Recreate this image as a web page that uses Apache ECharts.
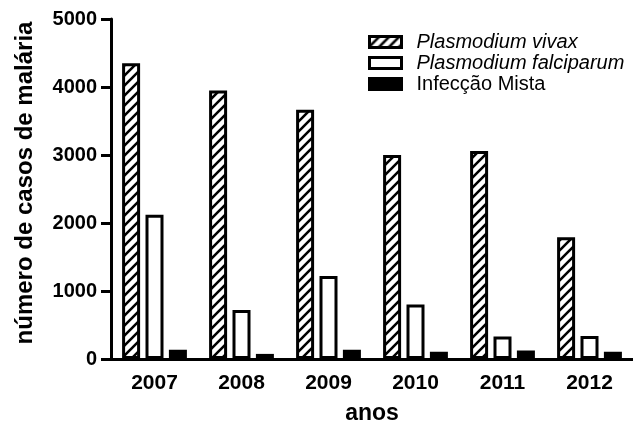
<!DOCTYPE html>
<html>
<head>
<meta charset="utf-8">
<script src="https://cdn.jsdelivr.net/npm/echarts@6/dist/echarts.min.js"></script>
<style>
  html, body { margin: 0; padding: 0; background: #fff; }
  #chart { width: 633px; height: 424px; }
</style>
</head>
<body>
<div id="chart"></div>
<script>
  // dados
  const anos = ['2007', '2008', '2009', '2010', '2011', '2012']
  const vivax = [4350, 3950, 3665, 3000, 3060, 1790]
  const falciparum = [2120, 720, 1220, 800, 330, 340]
  const mista = [135, 75, 135, 105, 125, 105]
  const yTicks = [0, 1000, 2000, 3000, 4000, 5000]

  // padrão hachurado "/"
  function hatch() {
    const s = 10
    const c = document.createElement('canvas')
    c.width = s
    c.height = s
    const ctx = c.getContext('2d')
    ctx.fillStyle = '#fff'
    ctx.fillRect(0, 0, s, s)
    ctx.strokeStyle = '#000'
    ctx.lineWidth = 2.6
    ctx.beginPath()
    ctx.moveTo(-1, s + 1); ctx.lineTo(s + 1, -1)
    ctx.moveTo(-2, 2); ctx.lineTo(2, -2)
    ctx.moveTo(s - 2, s + 2); ctx.lineTo(s + 2, s - 2)
    ctx.stroke()
    return c
  }

  const chart = echarts.init(document.getElementById('chart'), null, { renderer: 'canvas' })
  const font = 'Liberation Sans, Arial, sans-serif'

  const option = {
    animation: false,
    textStyle: { fontFamily: font, color: '#000' },
    grid: { left: 111, right: 0, top: 19, bottom: 65, containLabel: false, outerBoundsMode: 'none' },
    legend: {
      orient: 'vertical',
      left: 363,
      top: 27,
      icon: 'rect',
      itemWidth: 32,
      itemHeight: 11,
      itemGap: 1,
      itemStyle: { borderWidth: 3 },
      textStyle: { fontSize: 20, fontFamily: font, color: '#000', padding: [0, 0, 0, 10] },
      data: [
        { name: 'Plasmodium vivax', textStyle: { fontStyle: 'italic' } },
        { name: 'Plasmodium falciparum', textStyle: { fontStyle: 'italic' } },
        { name: 'Infecção Mista' }
      ]
    },
    xAxis: {
      type: 'category',
      data: anos,
      name: 'anos',
      nameLocation: 'middle',
      nameGap: 43,
      nameTextStyle: { fontSize: 23, fontWeight: 'bold', color: '#000' },
      axisLine: { lineStyle: { color: '#000', width: 3 } },
      axisTick: { alignWithLabel: true, length: 8, lineStyle: { color: '#000', width: 3 } },
      axisLabel: { fontSize: 21, fontWeight: 'bold', color: '#000', margin: 14 }
    },
    yAxis: {
      type: 'value',
      min: yTicks[0],
      max: yTicks[yTicks.length - 1],
      interval: 1000,
      name: 'número de casos de malária',
      nameLocation: 'middle',
      nameGap: 74,
      nameTextStyle: { fontSize: 24, fontWeight: 'bold', color: '#000', padding: [0, 0, 0, 12] },
      splitLine: { show: false },
      axisLine: { show: true, lineStyle: { color: '#000', width: 3 } },
      axisTick: { show: true, length: 10, lineStyle: { color: '#000', width: 3 } },
      axisLabel: { fontSize: 20, fontWeight: 'bold', color: '#000', margin: 14, formatter: v => String(v) }
    },
    series: [
      {
        name: 'Plasmodium vivax',
        type: 'bar',
        data: vivax,
        barWidth: 18,
        barGap: '30%',
        itemStyle: { color: { image: hatch(), repeat: 'repeat' }, borderColor: '#000', borderWidth: 3 }
      },
      {
        name: 'Plasmodium falciparum',
        type: 'bar',
        data: falciparum,
        barWidth: 18,
        barGap: '30%',
        itemStyle: { color: '#fff', borderColor: '#000', borderWidth: 3 }
      },
      {
        name: 'Infecção Mista',
        type: 'bar',
        data: mista,
        barWidth: 18,
        barGap: '30%',
        itemStyle: { color: '#000', borderColor: '#000', borderWidth: 3 }
      }
    ]
  }
  chart.setOption(option)
</script>
</body>
</html>
